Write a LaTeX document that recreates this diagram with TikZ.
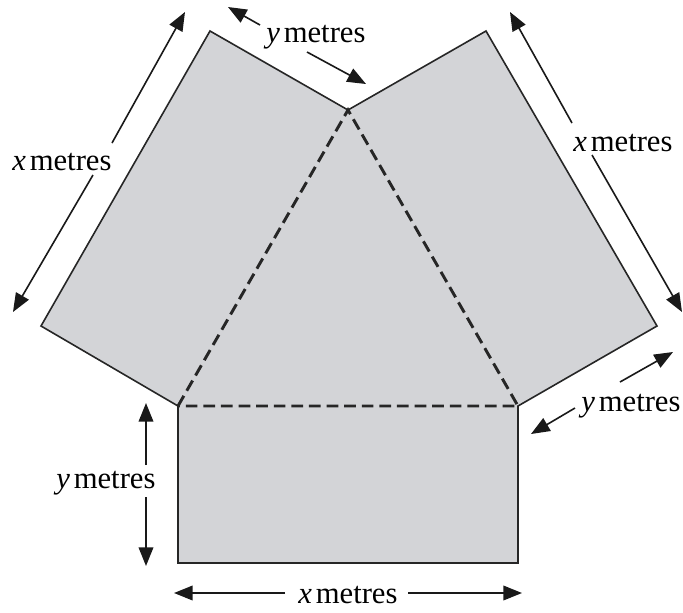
\documentclass[tikz,border=0pt]{standalone}
\usepackage{fontspec}
\setmainfont{Liberation Serif}
\usetikzlibrary{arrows.meta}
\definecolor{panelgray}{RGB}{211,212,215}
\tikzset{
  outline/.style={draw=black!85,line width=1.2pt,line join=miter},
  dashedge/.style={draw=black!85,line width=2.2pt,dash pattern=on 8.8pt off 4.4pt},
  dimarrow/.style={draw=black!90,line width=1.2pt,-{Triangle[length=14pt,width=11pt]}},
  lbl/.style={font=\fontsize{23}{27}\selectfont,inner sep=0pt}
}
\newcommand{\xm}{{\itshape x}\hspace{0.12em}metres}
\newcommand{\ym}{{\itshape y}\hspace{0.12em}metres}
\begin{document}
\begin{tikzpicture}[x=0.75pt,y=-0.75pt]
\useasboundingbox (0,0) rectangle (683,612);
% main shape points
\coordinate (B1) at (178,406);
\coordinate (B2) at (518,406);
\coordinate (A) at (348,110);
\coordinate (L1) at (41,326);
\coordinate (L2) at (210,31);
\coordinate (R1) at (657,326);
\coordinate (R2) at (486,31);
\coordinate (C1) at (178,563);
\coordinate (C2) at (518,563);
\fill[panelgray] (B1) -- (L1) -- (L2) -- (A) -- (R2) -- (R1) -- (B2) -- (C2) -- (C1) -- cycle;
\draw[outline] (B1) -- (L1) -- (L2) -- (A) -- (R2) -- (R1) -- (B2) -- (C2) -- (C1) -- cycle;
\draw[dashedge] (B1) -- (A) -- (B2) -- cycle;
% labels
\node[lbl] (tb) at (348,595) {\xm};
\node[lbl] (tl) at (106,483) {\ym};
\node[lbl] (tlx) at (62,162) {\xm};
\node[lbl] (tt) at (316,37) {\ym};
\node[lbl] (trx) at (623,143) {\xm};
\node[lbl] (try) at (631,406) {\ym};
% arrow end coordinates
\coordinate (b1s) at (285,593); \coordinate (b1e) at (174,593);
\coordinate (b2s) at (408,593); \coordinate (b2e) at (522,593);
\coordinate (l1s) at (146,465); \coordinate (l1e) at (146,403);
\coordinate (l2s) at (146,497); \coordinate (l2e) at (146,566);
\coordinate (x1s) at (112,143); \coordinate (x1e) at (185,12);
\coordinate (x2s) at (93,175); \coordinate (x2e) at (13,312);
\coordinate (t1s) at (260,25); \coordinate (t1e) at (228,7);
\coordinate (t2s) at (307,52); \coordinate (t2e) at (366,84);
\coordinate (r1s) at (572,123); \coordinate (r1e) at (510,12);
\coordinate (r2s) at (592,155); \coordinate (r2e) at (682,312);
\coordinate (y1s) at (620,382); \coordinate (y1e) at (673,352);
\coordinate (y2s) at (575,408); \coordinate (y2e) at (531,434);
\foreach \p in {b1,b2,l1,l2,x1,x2,t1,t2,r1,r2,y1,y2}
  \draw[dimarrow] (\p s) -- (\p e);
\end{tikzpicture}
\end{document}
